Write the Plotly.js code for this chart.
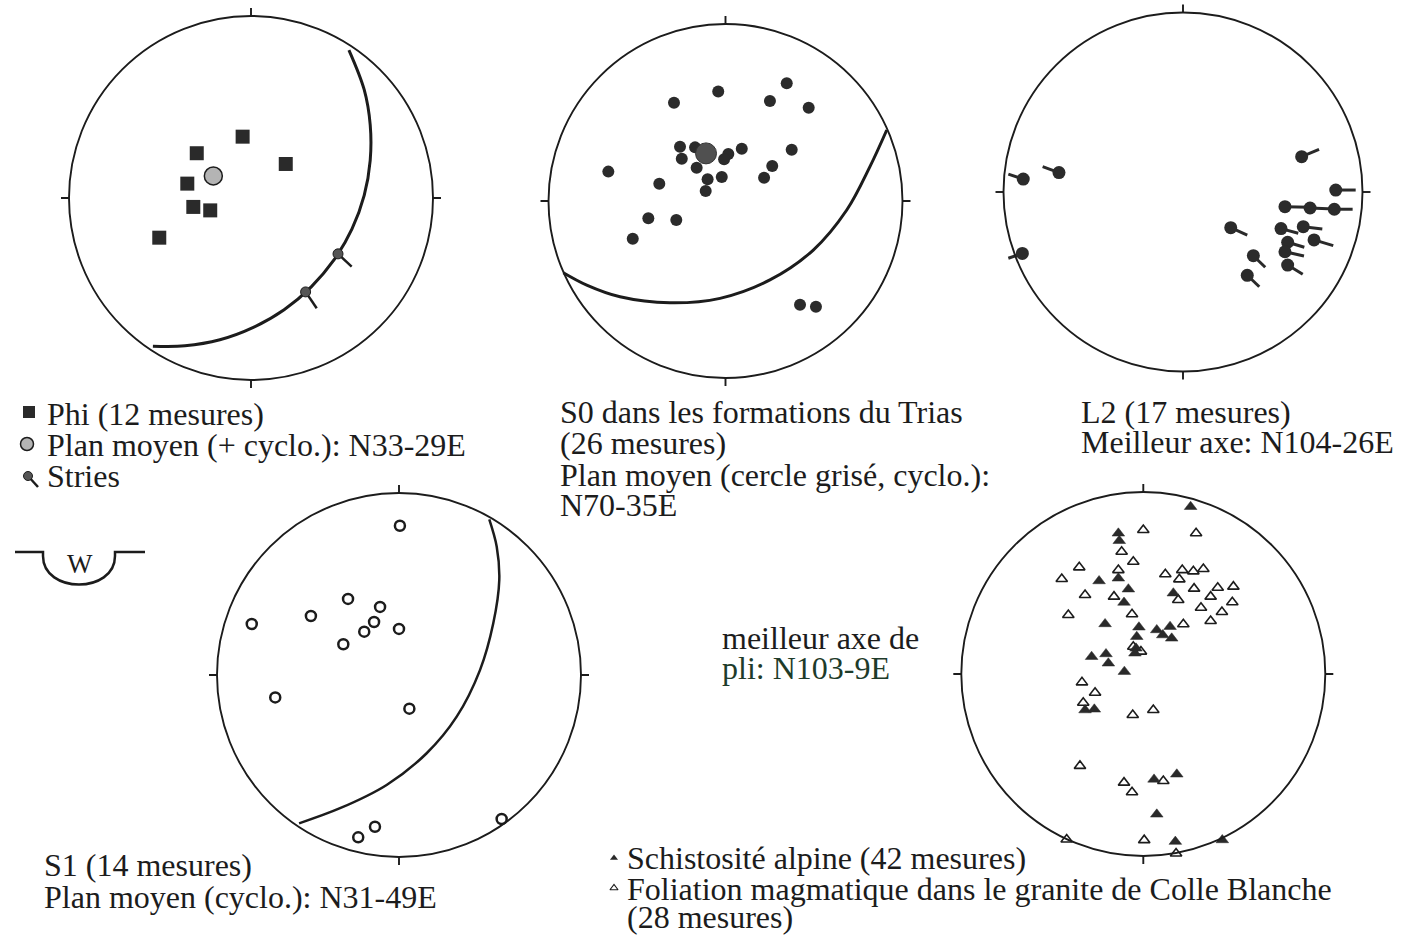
<!DOCTYPE html>
<html>
<head>
<meta charset="utf-8">
<script src="https://cdn.plot.ly/plotly-3.0.1.min.js"></script>
<style>html,body{margin:0;padding:0;background:#fff;}#chart{width:1411px;height:936px;}</style>
</head>
<body>
<div id="chart"></div>
<script>
// ---------------- DATA (unit-circle stereonet coordinates) ----------------
// Net 1 : Phi
const phiX = [-0.046, -0.298, 0.191, -0.350, -0.317, -0.224, -0.504];
const phiY = [0.337, 0.246, 0.187, 0.079, -0.049, -0.068, -0.218];
const phiMeanX = [-0.207];
const phiMeanY = [0.121];
const phiArcX = [0.538, 0.622, 0.655, 0.655, 0.622, 0.555, 0.457, 0.331, 0.182, 0.013, -0.171, -0.363, -0.539];
const phiArcY = [0.813, 0.595, 0.402, 0.207, 0.014, -0.170, -0.339, -0.488, -0.614, -0.711, -0.779, -0.812, -0.814];
const striaeX = [0.478, 0.300];
const striaeY = [-0.307, -0.516];
const striaeTailX = [0.553, 0.361];
const striaeTailY = [-0.377, -0.606];

// Net 2 : S0 Trias
const s0X = [0.346, -0.041, -0.291, 0.251, 0.470, -0.257, -0.172, 0.092, 0.374, -0.247, 0.016, -0.008, 0.264, -0.163, -0.662, -0.374, -0.101, -0.021, 0.218, -0.112, -0.436, -0.278, -0.524, 0.421, 0.511];
const s0Y = [0.665, 0.618, 0.555, 0.565, 0.527, 0.307, 0.303, 0.295, 0.290, 0.239, 0.266, 0.236, 0.198, 0.188, 0.166, 0.098, 0.123, 0.136, 0.132, 0.056, -0.098, -0.107, -0.213, -0.586, -0.597];
const s0MeanX = [-0.110];
const s0MeanY = [0.269];
const s0ArcX = [-0.916, -0.784, -0.596, -0.314, -0.031, 0.251, 0.496, 0.685, 0.816, 0.911];
const s0ArcY = [-0.405, -0.475, -0.541, -0.575, -0.550, -0.446, -0.277, -0.051, 0.194, 0.401];

// Net 3 : L2
const l2X = [0.661, -0.691, -0.890, 0.851, 0.568, 0.708, 0.843, 0.266, 0.546, 0.670, 0.730, 0.583, 0.568, 0.392, 0.583, 0.358, -0.895];
const l2Y = [0.197, 0.108, 0.072, 0.011, -0.082, -0.089, -0.096, -0.199, -0.204, -0.193, -0.267, -0.280, -0.333, -0.355, -0.407, -0.464, -0.342];
const l2TailX = [0.758, -0.782, -0.973, 0.962, 0.708, 0.841, 0.945, 0.358, 0.642, 0.776, 0.837, 0.676, 0.674, 0.458, 0.667, 0.425, -0.973];
const l2TailY = [0.238, 0.141, 0.100, 0.011, -0.085, -0.095, -0.096, -0.240, -0.230, -0.206, -0.299, -0.308, -0.357, -0.419, -0.458, -0.528, -0.369];

// Net 4 : S1
const s1X = [0.005, -0.280, -0.104, -0.484, -0.809, -0.137, -0.191, 0.000, -0.306, -0.680, 0.057, -0.132, -0.224, 0.564];
const s1Y = [0.820, 0.418, 0.374, 0.324, 0.280, 0.291, 0.238, 0.253, 0.169, -0.123, -0.185, -0.834, -0.892, -0.791];
const s1ArcX = [0.496, 0.537, 0.551, 0.518, 0.445, 0.317, 0.152, -0.068, -0.324, -0.549];
const s1ArcY = [0.855, 0.705, 0.522, 0.284, 0.027, -0.229, -0.430, -0.604, -0.732, -0.815];

// Net 5 : Schistosité alpine (filled) / Foliation magmatique (open)
const schX = [0.260, -0.137, -0.132, -0.137, -0.243, -0.082, 0.165, -0.106, -0.210, -0.024, 0.074, 0.147, 0.107, 0.156, -0.036, -0.040, -0.046, -0.284, -0.205, -0.192, -0.104, -0.320, -0.269, 0.059, 0.184, 0.074, 0.176, 0.434];
const schY = [0.919, 0.773, 0.732, 0.526, 0.511, 0.466, 0.444, 0.393, 0.275, 0.257, 0.242, 0.260, 0.214, 0.196, 0.205, 0.141, 0.114, 0.095, 0.110, 0.059, 0.013, -0.198, -0.194, -0.579, -0.551, -0.771, -0.921, -0.912];
const folX = [0.000, 0.290, -0.119, -0.055, -0.352, -0.137, -0.448, 0.121, 0.214, 0.275, 0.330, 0.198, -0.320, -0.161, 0.279, 0.409, 0.495, 0.370, 0.192, -0.412, -0.062, 0.317, 0.489, 0.432, 0.370, 0.220, -0.055, -0.013, -0.337, -0.265, -0.330, -0.058, 0.055, -0.348, -0.106, -0.062, 0.110, -0.421, 0.005, 0.180];
const folY = [0.791, 0.773, 0.672, 0.617, 0.586, 0.571, 0.522, 0.548, 0.571, 0.564, 0.577, 0.520, 0.434, 0.425, 0.469, 0.474, 0.480, 0.425, 0.407, 0.324, 0.328, 0.364, 0.394, 0.341, 0.291, 0.273, 0.150, 0.123, -0.046, -0.103, -0.158, -0.225, -0.198, -0.505, -0.597, -0.650, -0.588, -0.909, -0.913, -0.986];

// Texts
const legendPhi = ["Phi (12 mesures)", "Plan moyen (+ cyclo.): N33-29E", "Stries"];
const captionS0 = ["S0 dans les formations du Trias", "(26 mesures)", "Plan moyen (cercle grisé, cyclo.):", "N70-35E"];
const captionL2 = ["L2 (17 mesures)", "Meilleur axe: N104-26E"];
const captionS1 = ["S1 (14 mesures)", "Plan moyen (cyclo.): N31-49E"];
const legendNet5 = ["Schistosité alpine (42 mesures)", "Foliation magmatique dans le granite de Colle Blanche", "(28 mesures)"];
const foldNote = ["meilleur axe de", "pli: N103-9E"];
const wLabel = "W";

// ---------------- LAYOUT ----------------
const W = 1411, H = 936;
const FONT = "Liberation Serif, Times New Roman, serif";
const INK = "#1c1c1c";
const nets = [
  {cx: 251, cy: 198, r: 182},
  {cx: 725.5, cy: 201, r: 177},
  {cx: 1183, cy: 192, r: 179.5},
  {cx: 399, cy: 675, r: 182},
  {cx: 1143.3, cy: 674, r: 182}
];
const layout = {
  width: W, height: H, autosize: false,
  margin: {l: 0, r: 0, t: 0, b: 0, pad: 0},
  paper_bgcolor: "#ffffff", plot_bgcolor: "rgba(0,0,0,0)",
  showlegend: false, shapes: [], annotations: [],
  font: {family: FONT, color: INK}
};
nets.forEach((g, i) => {
  const n = i + 1, sfx = n === 1 ? "" : String(n);
  const pad = 1.12 * g.r;
  const x0 = Math.max(0, g.cx - pad), x1 = Math.min(W, g.cx + pad);
  const yt = Math.max(0, g.cy - pad), yb = Math.min(H, g.cy + pad);
  layout["xaxis" + sfx] = {domain: [x0 / W, x1 / W], range: [(x0 - g.cx) / g.r, (x1 - g.cx) / g.r],
    visible: false, fixedrange: true, anchor: "y" + sfx};
  layout["yaxis" + sfx] = {domain: [(H - yb) / H, (H - yt) / H], range: [(g.cy - yb) / g.r, (g.cy - yt) / g.r],
    visible: false, fixedrange: true, anchor: "x" + sfx};
  const xr = "x" + sfx, yr = "y" + sfx;
  layout.shapes.push({type: "circle", xref: xr, yref: yr, x0: -1, x1: 1, y0: -1, y1: 1,
    line: {color: INK, width: 1.9}});
  const t = 1 + 8 / g.r;
  [[0, 1, 0, t], [0, -1, 0, -t], [1, 0, t, 0], [-1, 0, -t, 0]].forEach(s => {
    layout.shapes.push({type: "line", xref: xr, yref: yr, x0: s[0], y0: s[1], x1: s[2], y1: s[3],
      line: {color: INK, width: 1.9}});
  });
});
// full-page key axis (pixel units) for legend swatches and text
layout.xaxis6 = {domain: [0, 1], range: [0, W], visible: false, fixedrange: true, anchor: "y6"};
layout.yaxis6 = {domain: [0, 1], range: [H, 0], visible: false, fixedrange: true, anchor: "x6"};

function tails(px, py, tx, ty) {
  const X = [], Y = [];
  for (let i = 0; i < px.length; i++) { X.push(px[i], tx[i], null); Y.push(py[i], ty[i], null); }
  return {X, Y};
}
const st = tails(striaeX, striaeY, striaeTailX, striaeTailY);
const lt = tails(l2X, l2Y, l2TailX, l2TailY);

const traces = [
  // Net 1
  {x: phiArcX, y: phiArcY, xaxis: "x", yaxis: "y", mode: "lines", line: {color: INK, width: 3, shape: "spline"}},
  {x: st.X, y: st.Y, xaxis: "x", yaxis: "y", mode: "lines", line: {color: INK, width: 2.5}},
  {x: striaeX, y: striaeY, xaxis: "x", yaxis: "y", mode: "markers", marker: {symbol: "circle", size: 10, color: "#555", line: {color: INK, width: 1}}},
  {x: phiX, y: phiY, xaxis: "x", yaxis: "y", mode: "markers", marker: {symbol: "square", size: 14, color: "#2a2a2a", line: {width: 0}}},
  {x: phiMeanX, y: phiMeanY, xaxis: "x", yaxis: "y", mode: "markers", marker: {symbol: "circle", size: 18, color: "#b4b4b4", line: {color: INK, width: 1.5}}},
  // Net 2
  {x: s0ArcX, y: s0ArcY, xaxis: "x2", yaxis: "y2", mode: "lines", line: {color: INK, width: 3, shape: "spline"}},
  {x: s0X, y: s0Y, xaxis: "x2", yaxis: "y2", mode: "markers", marker: {symbol: "circle", size: 12, color: "#2b2b2b", line: {width: 0}}},
  {x: s0MeanX, y: s0MeanY, xaxis: "x2", yaxis: "y2", mode: "markers", marker: {symbol: "circle", size: 21, color: "#505050", line: {color: "#333", width: 1}}},
  // Net 3
  {x: lt.X, y: lt.Y, xaxis: "x3", yaxis: "y3", mode: "lines", line: {color: "#2a2a2a", width: 3}},
  {x: l2X, y: l2Y, xaxis: "x3", yaxis: "y3", mode: "markers", marker: {symbol: "circle", size: 13, color: "#2b2b2b", line: {width: 0}}},
  // Net 4
  {x: s1ArcX, y: s1ArcY, xaxis: "x4", yaxis: "y4", mode: "lines", line: {color: INK, width: 2.5, shape: "spline"}},
  {x: s1X, y: s1Y, xaxis: "x4", yaxis: "y4", mode: "markers", marker: {symbol: "circle", size: 10, color: "#ffffff", line: {color: INK, width: 2.5}}},
  // Net 5
  {x: folX, y: folY, xaxis: "x5", yaxis: "y5", mode: "markers", marker: {symbol: "triangle-up", size: 10, color: "#ffffff", line: {color: INK, width: 1.6}}},
  {x: schX, y: schY, xaxis: "x5", yaxis: "y5", mode: "markers", marker: {symbol: "triangle-up", size: 11, color: "#2a2a2a", line: {color: "#2a2a2a", width: 0.5}}},
  // Legend swatches (page pixel axis)
  {x: [29], y: [412], xaxis: "x6", yaxis: "y6", mode: "markers", marker: {symbol: "square", size: 12, color: "#2a2a2a"}},
  {x: [27], y: [444], xaxis: "x6", yaxis: "y6", mode: "markers", marker: {symbol: "circle", size: 13, color: "#b4b4b4", line: {color: INK, width: 1.5}}},
  {x: [28, 38], y: [476, 487], xaxis: "x6", yaxis: "y6", mode: "lines", line: {color: INK, width: 2.5}},
  {x: [28], y: [476], xaxis: "x6", yaxis: "y6", mode: "markers", marker: {symbol: "circle", size: 9, color: "#555", line: {color: INK, width: 1}}},
  {x: [614], y: [858], xaxis: "x6", yaxis: "y6", mode: "markers", marker: {symbol: "triangle-up", size: 7, color: "#2a2a2a"}},
  {x: [614], y: [888], xaxis: "x6", yaxis: "y6", mode: "markers", marker: {symbol: "triangle-up", size: 7, color: "#ffffff", line: {color: INK, width: 1.2}}}
];
traces.forEach(t => { t.hoverinfo = "skip"; t.type = "scatter"; t.cliponaxis = false; });

// W symbol
layout.shapes.push({type: "path", xref: "x6", yref: "y6",
  path: "M 15 552 L 43 552 L 43 556 C 43 594 115 594 115 556 L 115 552 L 145 552",
  line: {color: INK, width: 2.5}});

function addLines(lines, x, ys, size, colors) {
  lines.forEach((txt, i) => {
    layout.annotations.push({text: txt, xref: "x6", yref: "y6", x: x, y: ys[i],
      xanchor: "left", yanchor: "middle", showarrow: false, borderpad: 0,
      font: {family: FONT, size: size, color: (colors && colors[i]) || INK}});
  });
}
addLines(legendPhi, 46, [414, 445, 476], 32);
addLines(captionS0, 559, [412, 443, 475, 505], 32);
addLines(captionL2, 1080, [412, 442], 32);
addLines(captionS1, 43, [865, 897], 32);
addLines(legendNet5, 626, [858, 889, 917], 32);
addLines(foldNote, 721, [638, 668], 32, [INK, "#1e3b2a"]);
layout.annotations.push({text: wLabel, xref: "x6", yref: "y6", x: 80, y: 564, xanchor: "center", yanchor: "middle",
  showarrow: false, font: {family: FONT, size: 27, color: INK}});

Plotly.newPlot("chart", traces, layout, {staticPlot: true, displayModeBar: false});
</script>
</body>
</html>
